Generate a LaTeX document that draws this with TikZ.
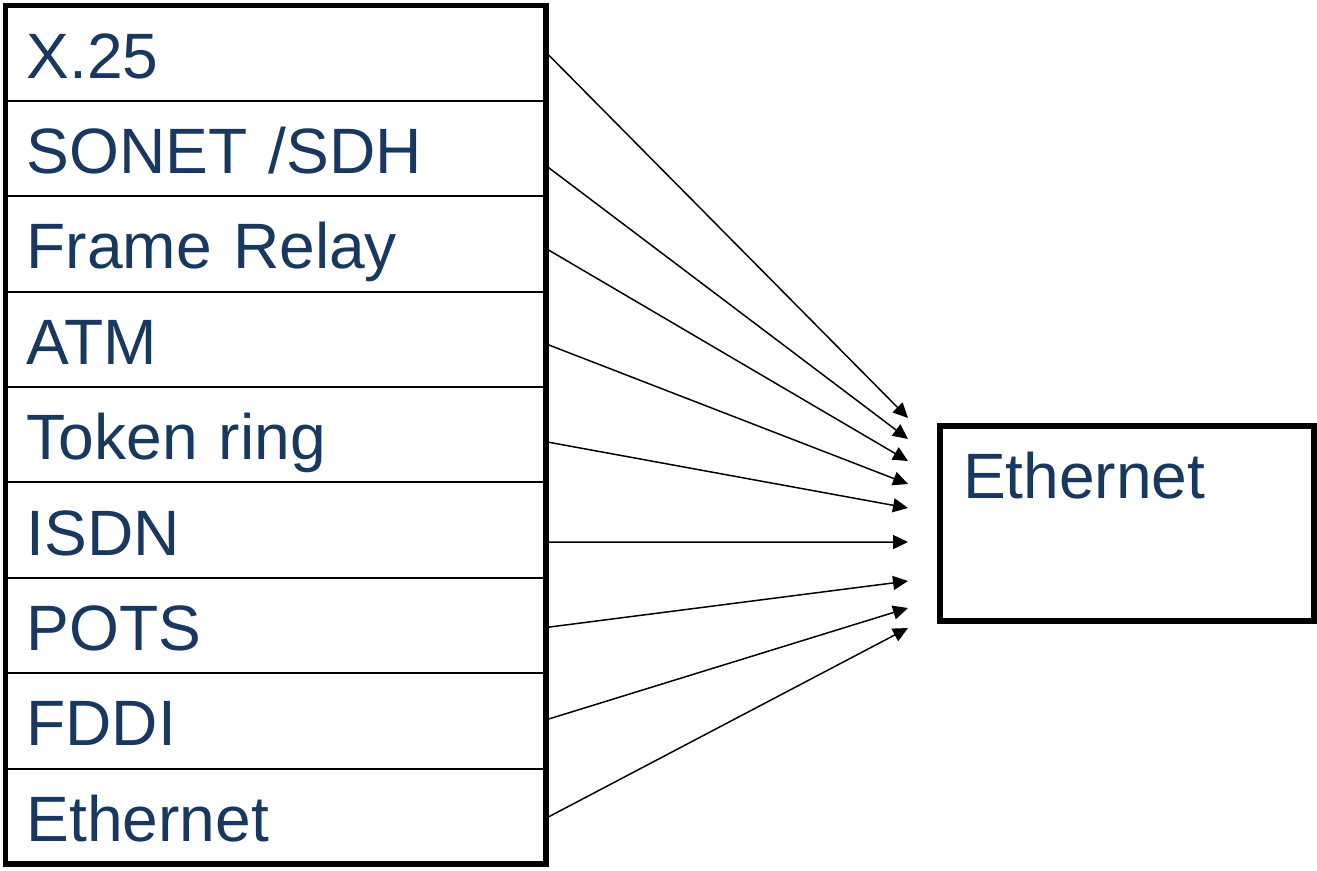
\documentclass[tikz,border=0pt]{standalone}
\usepackage{fontspec}
\setmainfont{Liberation Sans}
\usetikzlibrary{positioning, arrows.meta}
\definecolor{labelblue}{RGB}{24,56,96}
\tikzstyle{row} = [rectangle,draw,line width=1.1pt,inner sep=0pt,outer sep=0pt,minimum width=10.81cm,minimum height=1.908cm,inner xsep=0.42cm,text width=9.97cm,align=left,text height=1cm,text depth=0cm,text=labelblue,font=\fontsize{36.5}{40}\selectfont]
\tikzstyle{target} = [rectangle,draw,line width=3.1pt,inner sep=0pt,outer sep=0pt,inner xsep=0.46cm,text width=6.56cm,align=left,text height=1.44cm,text depth=2.46cm,text=labelblue,font=\fontsize{36.5}{40}\selectfont]
\tikzstyle{outline} = [draw,line width=3.1pt]
\tikzstyle{conn} = [-{Triangle[length=0.3cm,width=0.28cm]},line width=0.85pt]
\begin{document}
\begin{tikzpicture}[x=0.02cm,y=-0.02cm]
		\useasboundingbox (0,0) rectangle (1317,870);
		\node [row,anchor=north west](x25) at (5.5,5.5){X.25};
		\node [row,below=0cm of x25](sonet){SONET /SDH};
		\node [row,below=0cm of sonet](frelay){Frame Relay};
		\node [row,below=0cm of frelay](atm){ATM};
		\node [row,below=0cm of atm](token){Token ring};
		\node [row,below=0cm of token](isdn){ISDN};
		\node [row,below=0cm of isdn](pots){POTS};
		\node [row,below=0cm of pots](fddi){FDDI};
		\node [row,below=0cm of fddi](ethin){Ethernet};
		\draw[outline](x25.north west) rectangle (ethin.south east);
		
		\node [target,anchor=north west](ethout) at (940,426){Ethernet};
		
		\coordinate (t1) at (908,418);
		\coordinate (t2) at (908,439);
		\coordinate (t3) at (908,461);
		\coordinate (t4) at (908,484);
		\coordinate (t5) at (908,508);
		\coordinate (t6) at (908,542);
		\coordinate (t7) at (908,581);
		\coordinate (t8) at (908,608);
		\coordinate (t9) at (908,628);
		
		\draw[conn]([yshift=0.02cm]x25.east)--(t1);
		\draw[conn]([yshift=-0.34cm]sonet.east)--(t2);
		\draw[conn]([yshift=-0.09cm]frelay.east)--(t3);
		\draw[conn]([yshift=-0.09cm]atm.east)--(t4);
		\draw[conn]([yshift=-0.14cm]token.east)--(t5);
		\draw[conn]([yshift=-0.24cm]isdn.east)--(t6);
		\draw[conn]([yshift=-0.04cm]pots.east)--(t7);
		\draw[conn]([yshift=0.02cm]fddi.east)--(t8);
		\draw[conn]([yshift=-0.04cm]ethin.east)--(t9);
\end{tikzpicture}
\end{document}
